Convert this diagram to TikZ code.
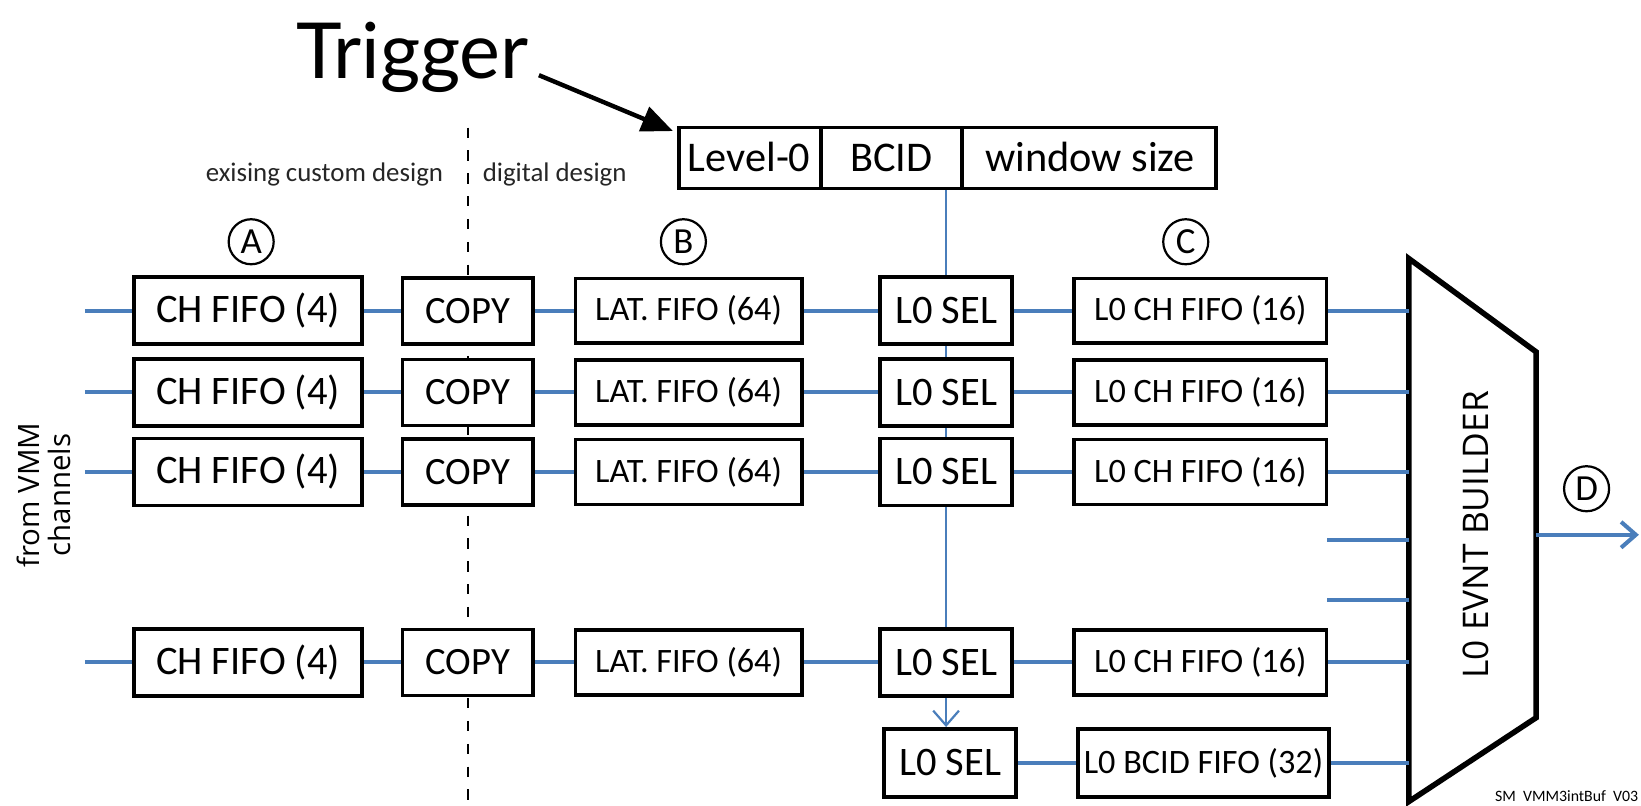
\documentclass[tikz,border=0pt]{standalone}
\usepackage{fontspec}
\setmainfont{Carlito}
\newfontfamily\evbfont{Open Sans}
\newfontfamily\trigfont{Lato}
\usetikzlibrary{arrows.meta}
\usetikzlibrary{shapes.multipart, positioning}

\definecolor{busblue}{RGB}{74,126,187}
\newcommand{\tcell}[2]{\makebox[#1]{\rule[-0.16cm]{0pt}{0.58cm}#2}}

\begin{document}
\begin{tikzpicture}[x=0.01cm, y=-0.01cm,
      >={Straight Barb[length=4pt,width=7pt]},
      fbox/.style={draw, fill=white, line width=1pt, inner sep=0pt},
      chbox/.style={fbox, minimum width=2.18cm, minimum height=0.64cm,
          font=\fontsize{11}{13}\selectfont},
      cpbox/.style={fbox, minimum width=1.25cm, minimum height=0.63cm,
          font=\fontsize{10.5}{12}\selectfont},
      latbox/.style={fbox, minimum width=2.16cm, minimum height=0.62cm,
          font=\fontsize{9.3}{11}\selectfont},
      selbox/.style={fbox, minimum width=1.26cm, minimum height=0.64cm,
          font=\fontsize{11}{13}\selectfont},
      lchbox/.style={fbox, minimum width=2.41cm, minimum height=0.62cm,
          font=\fontsize{9.3}{11}\selectfont},
      bus/.style={draw=busblue, line width=1.1pt},
      vbus/.style={draw=busblue, line width=0.6pt},
      tag/.style={circle, draw, line width=0.6pt, minimum size=0.43cm,
          inner sep=0pt, font=\fontsize{10}{12}\selectfont}]
    \useasboundingbox (0,0) rectangle (1568,770);

    \draw[dash pattern=on 2.8pt off 3.4pt, line width=0.45pt] (447,122) -- (447,770);

    \node[font=\trigfont\fontsize{21}{24}\selectfont, anchor=base, inner sep=0pt]
      (trg) at (394,75) {Trigger};
    \node[rectangle split, rectangle split horizontal, rectangle split parts=3,
          draw, line width=1pt, inner sep=0pt, anchor=west,
          font=\fontsize{11.5}{13}\selectfont] (lvl) at (647,151)
    {%
      \nodepart{one}\tcell{1.34cm}{Level-0}%
      \nodepart{two}\tcell{1.31cm}{BCID}%
      \nodepart{three}\tcell{2.41cm}{window size}%
    };
    \draw[line width=1.2pt, -{Triangle[length=8.5pt,width=7pt]}, shorten <=0.1cm]
      ([yshift=0.07cm]trg.base east) -- ([shift={(-0.04cm,-0.05cm)}]lvl.north west);

    \node[font=\fontsize{7.3}{9}\selectfont, text=black!85] (cust) at (310,167) {exising custom design};
    \node[font=\fontsize{7.3}{9}\selectfont, text=black!85] (digi) at (530,167) {digital design};

    \node[tag] (ta) at (240,231) {A};
    \node[tag] (tb) at (653,231) {B};
    \node[tag] (tc) at (1133,231) {C};
    \node[tag] (td) at (1516,467) {D};

    \node[rotate=90, align=center, font=\evbfont\fontsize{8}{8.6}\selectfont]
      (src) at (42,473) {from VMM\\channels};

    \foreach \i/\y in {1/297, 2/375, 3/451, 4/633} {
      \node[chbox] (chf\i) at (237,\y) {CH FIFO (4)};
      \node[cpbox] (cp\i) at (447,\y) {COPY};
      \node[latbox] (lat\i) at (658,\y) {LAT. FIFO (64)};
      \node[selbox] (sel\i) at (904,\y) {L0 SEL};
      \node[lchbox] (lch\i) at (1147,\y) {L0 CH FIFO (16)};
      \coordinate[left=0.45cm of chf\i.west] (in\i);
      \draw[bus] (in\i) -- (chf\i) -- (cp\i) -- (lat\i) -- (sel\i) -- (lch\i);
    }
    \node[selbox, minimum height=0.65cm] (bsel) at (908,729) {L0 SEL};
    \node[lchbox, minimum width=2.40cm, minimum height=0.65cm] (bfifo) at (1150,729) {L0 BCID FIFO (32)};
    \draw[bus] (bsel) -- (bfifo);

    \draw[vbus] (sel1 |- lvl.south) -- (sel1) -- (sel2) -- (sel3) -- (sel4);
    \draw[vbus, ->] (sel4) -- (sel4 |- bsel.north);

    \node[minimum width=1.2cm, minimum height=5.17cm, inner sep=0pt] (evb) at (1407,506.5) {};
    \draw[line width=1.5pt, line join=miter] (evb.north west) -- ([yshift=-0.89cm]evb.north east)
      -- ([yshift=0.80cm]evb.south east) -- (evb.south west) -- cycle;
    \node[rotate=90, font=\evbfont\fontsize{9.6}{12}\selectfont] (evbtxt) at (1410,511) {L0 EVNT BUILDER};

    \coordinate (sp1) at (1268,516);
    \coordinate (sp2) at (1268,573);
    \coordinate (dout) at (1566,511);
    \foreach \i in {1,2,3,4}
      \draw[bus] (lch\i.east) -- (lch\i.east -| evb.west);
    \draw[bus] (bfifo.east) -- (bfifo.east -| evb.west);
    \draw[bus] (sp1) -- (sp1 -| evb.west);
    \draw[bus] (sp2) -- (sp2 -| evb.west);
    \draw[bus, ->] (dout -| evb.east) -- (dout);

    \node[anchor=base east, font=\fontsize{4.3}{5}\selectfont, inner sep=0pt]
      (ver) at (1566,766) {SM\ \ VMM3intBuf\ \ V03};
\end{tikzpicture}
\end{document}
